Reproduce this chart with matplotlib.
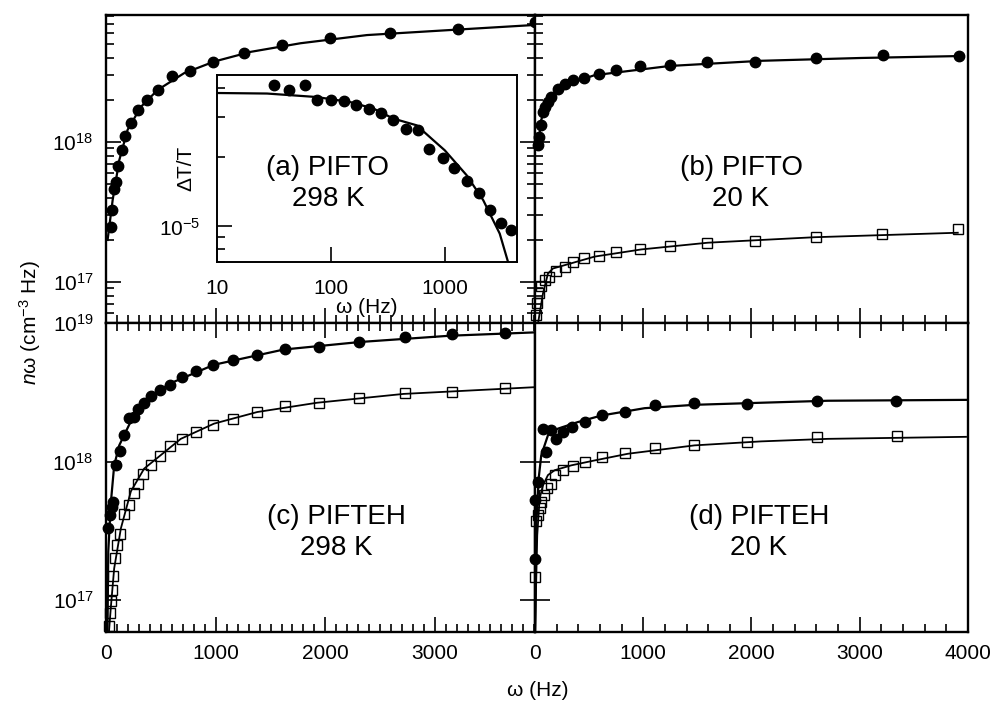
import numpy as np
import matplotlib
matplotlib.use("Agg")
import matplotlib.pyplot as plt
from matplotlib.ticker import LogLocator, MultipleLocator, NullLocator, NullFormatter

plt.rcParams['font.family'] = ['Liberation Sans', 'DejaVu Sans']
plt.rcParams['mathtext.fontset'] = 'custom'
plt.rcParams['mathtext.rm'] = 'Liberation Sans'
plt.rcParams['mathtext.it'] = 'Liberation Sans:italic'

# (a) PIFTO 298 K
a_w = [45, 55, 70, 90, 110, 145, 175, 230, 290, 375, 470, 600, 765, 980, 1255, 1600, 2040, 2590, 3210, 3910]
a_n = [2.47e17, 3.27e17, 4.6e17, 5.2e17, 6.7e17, 8.8e17, 1.1e18, 1.37e18, 1.7e18, 2.0e18,
       2.35e18, 2.95e18, 3.2e18, 3.7e18, 4.3e18, 4.9e18, 5.5e18, 6.0e18, 6.4e18, 7.2e18]
fa_w = [15, 61, 121, 197, 318, 470, 712, 985, 1318, 1773, 2379, 3136, 3924]
fa_n = [2.0e17, 3.85e17, 7.4e17, 1.22e18, 1.78e18, 2.35e18, 3.1e18, 3.75e18, 4.4e18, 5.07e18, 5.8e18, 6.3e18, 6.86e18]

# inset: dT/T vs w
ins_w = [31.5, 43, 59, 75.5, 100, 129, 167, 217, 276, 354, 454, 578, 731, 957, 1209, 1552, 1987, 2516, 3139, 3786]
ins_dt = [4.1e-5, 3.93e-5, 4.1e-5, 3.56e-5, 3.54e-5, 3.5e-5, 3.38e-5, 3.25e-5, 3.12e-5, 2.89e-5,
          2.66e-5, 2.63e-5, 2.18e-5, 1.99e-5, 1.79e-5, 1.58e-5, 1.40e-5, 1.18e-5, 1.03e-5, 9.6e-6]
fins_w = [10, 27.5, 75, 148, 237, 354, 566, 792, 1000, 1552, 2173, 3034, 3590]
fins_dt = [3.8e-5, 3.78e-5, 3.65e-5, 3.47e-5, 3.25e-5, 2.94e-5, 2.75e-5, 2.37e-5, 2.14e-5, 1.67e-5, 1.30e-5, 9.3e-6, 7.0e-6]

# (b) PIFTO 20 K
b_w = [28, 37, 52, 74, 95, 120, 151, 212, 274, 351, 452, 588, 751, 970, 1244, 1588, 2034, 2592, 3213, 3915]
b_n = [9.5e17, 1.09e18, 1.32e18, 1.65e18, 1.79e18, 1.94e18, 2.1e18, 2.4e18, 2.6e18, 2.75e18,
       2.87e18, 3.06e18, 3.24e18, 3.46e18, 3.56e18, 3.7e18, 3.75e18, 4.0e18, 4.2e18, 4.1e18]
fb_w = [28, 58, 120, 243, 551, 1244, 2090, 3013, 3936]
fb_n = [9.25e17, 1.44e18, 2.0e18, 2.5e18, 3.0e18, 3.49e18, 3.8e18, 3.98e18, 4.11e18]
bs_w = [12, 21, 37, 58, 89, 126, 197, 274, 351, 452, 588, 751, 970, 1244, 1588, 2034, 2592, 3207, 3912]
bs_n = [5.8e16, 7.05e16, 8.3e16, 9.3e16, 1.03e17, 1.09e17, 1.19e17, 1.29e17, 1.4e17, 1.48e17,
        1.53e17, 1.63e17, 1.71e17, 1.81e17, 1.91e17, 1.97e17, 2.09e17, 2.2e17, 2.4e17]
fbs_w = [28, 74, 120, 166, 274, 551, 982, 1597, 2583, 3906]
fbs_n = [5.07e16, 8.3e16, 1.15e17, 1.25e17, 1.32e17, 1.52e17, 1.71e17, 1.91e17, 2.09e17, 2.25e17]

# (c) PIFTEH 298 K
c_w = [21, 39, 52, 61, 91, 130, 167, 212, 258, 288, 349, 415, 494, 585, 691, 824, 979, 1161, 1379,
       1636, 1939, 2309, 2721, 3157, 3636]
c_n = [3.3e17, 4.1e17, 4.7e17, 5.1e17, 9.4e17, 1.2e18, 1.55e18, 2.06e18, 2.1e18, 2.4e18, 2.64e18,
       3.0e18, 3.3e18, 3.6e18, 4.06e18, 4.5e18, 5.0e18, 5.45e18, 5.9e18, 6.5e18, 6.75e18, 7.3e18,
       7.95e18, 8.3e18, 8.5e18]
fc_w = [14, 21, 45, 75, 121, 258, 561, 985, 1621, 2318, 3136, 3924]
fc_n = [6e16, 2.24e17, 5.1e17, 9.4e17, 1.31e18, 2.2e18, 3.6e18, 5.0e18, 6.44e18, 7.3e18, 8.1e18, 8.57e18]
cs_w = [30, 39, 45, 55, 64, 82, 100, 127, 167, 212, 252, 294, 342, 409, 491, 585, 691, 824, 979,
        1161, 1379, 1636, 1939, 2309, 2721, 3157, 3636]
cs_n = [6.5e16, 8.1e16, 9.8e16, 1.19e17, 1.5e17, 2.03e17, 2.5e17, 3.0e17, 4.2e17, 4.85e17, 5.9e17,
        6.9e17, 8.1e17, 9.4e17, 1.1e18, 1.29e18, 1.45e18, 1.64e18, 1.85e18, 2.04e18, 2.28e18, 2.5e18,
        2.65e18, 2.87e18, 3.13e18, 3.2e18, 3.4e18]
fcs_w = [28, 45, 75, 136, 227, 348, 682, 985, 1379, 1924, 2712, 3924]
fcs_n = [6e16, 9e16, 1.7e17, 3.3e17, 6.1e17, 8.9e17, 1.46e18, 1.88e18, 2.28e18, 2.66e18, 3.08e18, 3.45e18]

# (d) PIFTEH 20 K
d_w = [3, 3, 28, 104, 74, 145, 197, 259, 342, 465, 622, 828, 1105, 1468, 1960, 2601, 3336]
d_n = [1.98e17, 5.3e17, 7.1e17, 1.17e18, 1.73e18, 1.68e18, 1.46e18, 1.64e18, 1.78e18, 1.93e18,
       2.18e18, 2.28e18, 2.57e18, 2.64e18, 2.6e18, 2.72e18, 2.76e18]
fd_w = [2, 12, 34, 58, 120, 212, 397, 612, 1013, 1474, 2090, 2705, 3982]
fd_n = [6e16, 3.48e17, 7.55e17, 1.11e18, 1.55e18, 1.73e18, 1.93e18, 2.15e18, 2.43e18, 2.57e18, 2.66e18, 2.75e18, 2.79e18]
ds_w = [3, 12, 28, 43, 58, 83, 111, 151, 188, 259, 351, 465, 622, 828, 1105, 1468, 1960, 2601, 3343]
ds_n = [1.48e17, 3.7e17, 4.1e17, 4.6e17, 5.1e17, 5.7e17, 6.4e17, 6.9e17, 8.0e17, 8.75e17, 9.25e17,
        1.0e18, 1.08e18, 1.16e18, 1.26e18, 1.32e18, 1.39e18, 1.5e18, 1.53e18]
fds_w = [1, 21, 43, 74, 120, 182, 335, 551, 859, 1474, 2090, 2705, 3982]
fds_n = [6e16, 2.95e17, 5.4e17, 6.75e17, 8.0e17, 8.67e17, 9.4e17, 1.02e18, 1.14e18, 1.31e18, 1.4e18, 1.46e18, 1.51e18]

fig = plt.figure(figsize=(9.94, 7.03), dpi=100)
axA = fig.add_axes([0.1066, 0.5405, 0.4316, 0.4382])
axB = fig.add_axes([0.5382, 0.5405, 0.4356, 0.4382])
axC = fig.add_axes([0.1066, 0.1010, 0.4316, 0.4395])
axD = fig.add_axes([0.5382, 0.1010, 0.4356, 0.4395])


def circles(ax, w, n, fw, fn):
    ax.plot(fw, fn, color='black', lw=1.6, zorder=2, clip_on=True)
    ax.plot(w, n, 'o', color='black', ms=7.5, zorder=3, clip_on=False)


def squares(ax, w, n, fw, fn):
    ax.plot(fw, fn, color='black', lw=1.3, zorder=2, clip_on=True)
    ax.plot(w, n, 's', mfc='none', mec='black', mew=1.0, ms=7.2, zorder=3, clip_on=False)


circles(axA, a_w, a_n, fa_w, fa_n)
circles(axB, b_w, b_n, fb_w, fb_n)
squares(axB, bs_w, bs_n, fbs_w, fbs_n)
circles(axC, c_w, c_n, fc_w, fc_n)
squares(axC, cs_w, cs_n, fcs_w, fcs_n)
circles(axD, d_w, d_n, fd_w, fd_n)
squares(axD, ds_w, ds_n, fds_w, fds_n)

for ax, top_row, left_col in [(axA, True, True), (axB, True, False), (axC, False, True), (axD, False, False)]:
    ax.set_yscale('log')
    if top_row:
        ax.set_ylim(5.1e16, 8.07e18)
        ax.yaxis.set_minor_locator(LogLocator(base=10, subs=np.arange(2, 10)))
    else:
        ax.set_ylim(5.9e16, 1e19)
        ax.yaxis.set_minor_locator(NullLocator())
    ax.yaxis.set_minor_formatter(NullFormatter())
    ax.set_xlim(0, 3910 if left_col else 4000)
    ax.xaxis.set_major_locator(MultipleLocator(1000))
    ax.xaxis.set_minor_locator(MultipleLocator(100 if left_col else 200))
    ax.tick_params(which='both', direction='in', labelsize=15, pad=9,
                   left=True, right=left_col, top=not top_row, bottom=True,
                   labelleft=left_col, labelbottom=not top_row)
    ax.tick_params(which='major', length=11, width=1.2)
    ax.tick_params(which='minor', length=6, width=1.2)
    for s in ax.spines.values():
        s.set_linewidth(1.7)

# inset
axI = fig.add_axes([0.2183, 0.6273, 0.3018, 0.266])
axI.plot(fins_w, fins_dt, color='black', lw=1.6, zorder=2)
axI.plot(ins_w, ins_dt, 'o', color='black', ms=7.5, zorder=3, clip_on=False)
axI.set_xscale('log')
axI.set_yscale('log')
axI.set_xlim(10, 4300)
axI.set_ylim(7.0e-6, 4.55e-5)
axI.set_xticks([10, 100, 1000], labels=['10', '100', '1000'])
axI.xaxis.set_minor_locator(NullLocator())
axI.set_yticks([1e-5], labels=['$\\mathdefault{10^{-5}}$'])
axI.yaxis.set_minor_locator(LogLocator(base=10, subs=np.arange(2, 10)))
axI.yaxis.set_minor_formatter(NullFormatter())
axI.tick_params(which='both', direction='in', labelsize=15, pad=12, top=False, right=False)
axI.tick_params(which='major', length=11, width=1.2)
axI.tick_params(which='minor', length=6, width=1.2)
for s in axI.spines.values():
    s.set_linewidth(1.4)
axI.set_xlabel('ω (Hz)', fontsize=15, labelpad=0)
axI.text(-0.103, 0.5, 'ΔT/T', transform=axI.transAxes, rotation=90, fontsize=15,
         ha='center', va='center')

# panel annotations
fig.text(328 / 994, 1 - 183.5 / 703, '(a) PIFTO\n298 K', fontsize=20, ha='center', va='center', linespacing=1.25)
fig.text(741 / 994, 1 - 183.5 / 703, '(b) PIFTO\n20 K', fontsize=20, ha='center', va='center', linespacing=1.25)
fig.text(336 / 994, 1 - 532.5 / 703, '(c) PIFTEH\n298 K', fontsize=20, ha='center', va='center', linespacing=1.25)
fig.text(759 / 994, 1 - 532.5 / 703, '(d) PIFTEH\n20 K', fontsize=20, ha='center', va='center', linespacing=1.25)

fig.text(30 / 994, 1 - 323 / 703, '$n$ω (cm$^{-3}$ Hz)', fontsize=15, rotation=90, ha='center', va='center')
fig.text(538 / 994, 1 - 690 / 703, 'ω (Hz)', fontsize=15, ha='center', va='center')

fig.savefig('out.png', dpi=100)
